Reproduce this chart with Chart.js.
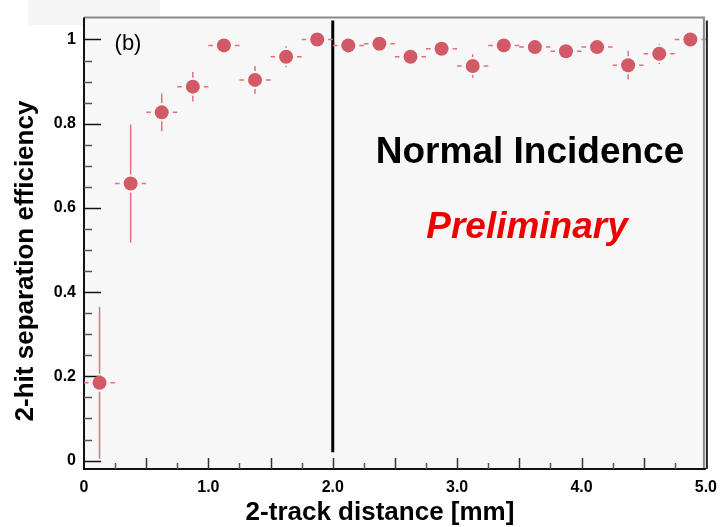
<!DOCTYPE html>
<html>
<head>
<meta charset="utf-8">
<script src="https://cdn.jsdelivr.net/npm/chart.js@4.4.1/dist/chart.umd.min.js"></script>
<style>
  html, body { margin: 0; padding: 0; background: #fff; }
  canvas { display: block; }
</style>
</head>
<body>
<canvas id="myChart" width="726" height="527"></canvas>
<script>
// bin centres [mm] and measured efficiency
const binCenters = [0.125, 0.375, 0.625, 0.875, 1.125, 1.375, 1.625, 1.875, 2.125, 2.375,
                    2.625, 2.875, 3.125, 3.375, 3.625, 3.875, 4.125, 4.375, 4.625, 4.875];
const efficiency = [0.185, 0.658, 0.827, 0.888, 0.986, 0.904, 0.959, 1.0, 0.986, 0.990,
                    0.959, 0.978, 0.937, 0.986, 0.982, 0.972, 0.982, 0.939, 0.966, 1.0];
const efficiencyErr = [0.18, 0.14, 0.045, 0.035, 0.01, 0.033, 0.025, 0.0, 0.01, 0.01,
                       0.01, 0.01, 0.028, 0.01, 0.01, 0.01, 0.01, 0.034, 0.024, 0.0];
const binHalfWidth = 0.125;

const xTickValues = [0, 1, 2, 3, 4, 5];
const xTickLabels = ['0', '1.0', '2.0', '3.0', '4.0', '5.0'];
const yTickValues = [0, 0.2, 0.4, 0.6, 0.8, 1];
const yTickLabels = ['0', '0.2', '0.4', '0.6', '0.8', '1'];

const cutX = 2.0;          // vertical line
const cutRange = [0.02, 1.045];

const markerColor = '#d25a66';
const errColor = '#e2717d';
const tickFont = { family: 'Liberation Sans', size: 16, weight: 'bold' };

const points = binCenters.map((x, i) => ({ x: x, y: efficiency[i] }));

const decorations = {
    id: 'decorations',
    beforeDraw(chart) {
        const ctx = chart.ctx;
        const a = chart.chartArea;
        ctx.save();
        ctx.fillStyle = '#ffffff';
        ctx.fillRect(0, 0, chart.width, chart.height);
        // leftover title pad
        ctx.fillStyle = '#f5f5f5';
        ctx.fillRect(28, 0, 132, 25);
        // plot background
        ctx.fillStyle = '#f7f7f7';
        ctx.fillRect(a.left, a.top, a.right - a.left, a.bottom - a.top);
        ctx.restore();
    },
    beforeDatasetsDraw(chart) {
        const ctx = chart.ctx;
        const a = chart.chartArea;
        const xs = chart.scales.x, ys = chart.scales.y;
        ctx.save();

        // frame
        ctx.strokeStyle = '#8a8a8a';
        ctx.lineWidth = 2;
        ctx.beginPath();
        ctx.moveTo(a.left, a.top);
        ctx.lineTo(a.right - 2, a.top);
        ctx.lineTo(a.right - 2, a.bottom);
        ctx.stroke();
        ctx.strokeStyle = '#222';
        ctx.lineWidth = 2;
        ctx.beginPath();
        ctx.moveTo(a.right + 1, a.top + 3);
        ctx.lineTo(a.right + 1, a.bottom);
        ctx.stroke();
        ctx.strokeStyle = '#111';
        ctx.beginPath();
        ctx.moveTo(a.left, a.top);
        ctx.lineTo(a.left, a.bottom);
        ctx.lineTo(a.right, a.bottom);
        ctx.stroke();

        // y ticks (inward)
        ctx.lineWidth = 1.5;
        for (let v = 0; v <= 1.0001; v += 0.05) {
            const y = Math.round(ys.getPixelForValue(v)) + 0.5;
            const major = Math.abs(v / 0.2 - Math.round(v / 0.2)) < 1e-6;
            ctx.strokeStyle = major ? '#111' : '#555';
            ctx.beginPath();
            ctx.moveTo(a.left, y);
            ctx.lineTo(a.left + (major ? 17 : 8), y);
            ctx.stroke();
        }
        // x ticks (inward)
        for (let v = 0.25; v < 5; v += 0.25) {
            const x = Math.round(xs.getPixelForValue(v)) + 0.5;
            const major = Math.abs(v / 0.5 - Math.round(v / 0.5)) < 1e-6;
            ctx.strokeStyle = major ? '#333' : '#555';
            ctx.beginPath();
            ctx.moveTo(x, a.bottom);
            ctx.lineTo(x, a.bottom - (major ? 11 : 6));
            ctx.stroke();
        }

        // vertical cut line
        ctx.strokeStyle = '#000';
        ctx.lineWidth = 3;
        const cx = xs.getPixelForValue(cutX);
        ctx.beginPath();
        ctx.moveTo(cx, ys.getPixelForValue(cutRange[1]));
        ctx.lineTo(cx, ys.getPixelForValue(cutRange[0]));
        ctx.stroke();

        // error bars
        ctx.strokeStyle = errColor;
        ctx.lineWidth = 1.5;
        const gap = 11;
        binCenters.forEach((xv, i) => {
            const px = xs.getPixelForValue(xv);
            const py = ys.getPixelForValue(efficiency[i]);
            const xl = xs.getPixelForValue(xv - binHalfWidth);
            const xr = xs.getPixelForValue(xv + binHalfWidth);
            ctx.beginPath();
            ctx.moveTo(xl, py); ctx.lineTo(px - gap, py);
            ctx.moveTo(px + gap, py); ctx.lineTo(Math.min(xr, a.right), py);
            ctx.stroke();
            const e = efficiencyErr[i];
            if (e > 0) {
                const yt = ys.getPixelForValue(efficiency[i] + e);
                const yb = ys.getPixelForValue(efficiency[i] - e);
                if (py - yt > 9) {
                    ctx.beginPath();
                    ctx.moveTo(px, yt); ctx.lineTo(px, py - 9);
                    ctx.moveTo(px, py + 9); ctx.lineTo(px, yb);
                    ctx.stroke();
                }
            }
        });
        ctx.restore();
    },
    afterDraw(chart) {
        const ctx = chart.ctx;
        ctx.save();
        ctx.fillStyle = '#000';
        ctx.textAlign = 'center';
        ctx.textBaseline = 'middle';

        ctx.font = '22px "Liberation Sans"';
        ctx.fillText('(b)', 128, 44);

        ctx.font = 'bold 37px "Liberation Sans"';
        ctx.fillText('Normal Incidence', 530, 153);

        ctx.fillStyle = '#ee0000';
        ctx.font = 'italic bold 37px "Liberation Sans"';
        ctx.fillText('Preliminary', 527, 228);

        ctx.fillStyle = '#000';
        ctx.font = 'bold 26px "Liberation Sans"';
        ctx.fillText('2-track distance [mm]', 380, 513);

        ctx.translate(26, 261);
        ctx.rotate(-Math.PI / 2);
        ctx.font = 'bold 26px "Liberation Sans"';
        ctx.fillText('2-hit separation efficiency', 0, 0);
        ctx.restore();
    }
};

const ctx = document.getElementById('myChart').getContext('2d');
const chart = new Chart(ctx, {
    type: 'scatter',
    data: {
        datasets: [{
            data: points,
            backgroundColor: markerColor,
            borderColor: markerColor,
            borderWidth: 0,
            pointRadius: 7,
            pointStyle: 'circle'
        }]
    },
    options: {
        responsive: false,
        animation: false,
        devicePixelRatio: 1,
        layout: { padding: { top: 12, right: 14, left: 0, bottom: 0 } },
        plugins: {
            legend: { display: false },
            tooltip: { enabled: false }
        },
        scales: {
            x: {
                type: 'linear',
                min: 0,
                max: 5,
                afterBuildTicks: scale => { scale.ticks = xTickValues.map(v => ({ value: v })); },
                afterFit: scale => { scale.height = 58; },
                grid: { display: false, drawTicks: false },
                border: { display: false },
                ticks: {
                    color: '#000',
                    font: tickFont,
                    padding: 9,
                    maxRotation: 0,
                    callback: (v) => {
                        const i = xTickValues.indexOf(v);
                        return i >= 0 ? xTickLabels[i] : '';
                    }
                }
            },
            y: {
                type: 'linear',
                min: -0.02,
                max: 1.052,
                afterBuildTicks: scale => { scale.ticks = yTickValues.map(v => ({ value: v })); },
                afterFit: scale => { scale.width = 84; },
                grid: { display: false, drawTicks: false },
                border: { display: false },
                ticks: {
                    color: '#000',
                    font: tickFont,
                    padding: 8,
                    callback: (v) => {
                        const i = yTickValues.indexOf(v);
                        return i >= 0 ? yTickLabels[i] : '';
                    }
                }
            }
        }
    },
    plugins: [decorations]
});
</script>
</body>
</html>
